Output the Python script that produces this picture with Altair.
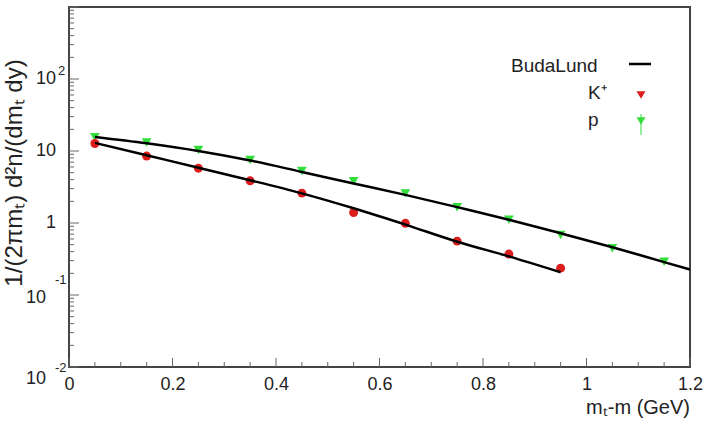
import altair as alt
import pandas as pd

# ---- data ----
kaon_mt = [0.05, 0.15, 0.25, 0.35, 0.45, 0.55, 0.65, 0.75, 0.85, 0.95]
kaon_yield = [12.7, 8.5, 5.77, 3.85, 2.6, 1.40, 0.99, 0.56, 0.37, 0.236]

proton_mt = [0.05, 0.15, 0.25, 0.35, 0.45, 0.55, 0.65, 0.75, 0.85, 0.95, 1.05, 1.15]
proton_yield = [15.6, 13.1, 10.3, 7.5, 5.29, 3.81, 2.58, 1.65, 1.11, 0.68, 0.447, 0.29]

fitk_mt = [0.05, 0.15, 0.25, 0.35, 0.45, 0.55, 0.65, 0.75, 0.85, 0.95]
fitk_yield = [12.98, 8.72, 5.86, 3.93, 2.58, 1.6, 0.95, 0.55, 0.344, 0.207]

fitp_mt = [0.05, 0.15, 0.25, 0.35, 0.45, 0.55, 0.65, 0.75, 0.85, 0.95, 1.05, 1.15, 1.2]
fitp_yield = [15.7, 12.8, 10.0, 7.37, 5.12, 3.54, 2.46, 1.66, 1.11, 0.72, 0.461, 0.286, 0.226]

x_major = [0, 0.2, 0.4, 0.6, 0.8, 1.0, 1.2]
x_minor = [0.05, 0.1, 0.15, 0.25, 0.3, 0.35, 0.45, 0.5, 0.55, 0.65, 0.7, 0.75,
           0.85, 0.9, 0.95, 1.05, 1.1, 1.15]
y_major = [0.01, 0.1, 1, 10, 100, 1000]
y_minor = [m * d for d in [0.01, 0.1, 1, 10, 100] for m in [2, 3, 4, 5, 6, 7, 8, 9]]

ytick_vals = [100, 10, 1, 0.1, 0.01]
ytick_base = ["10", "10", "1", "10", "10"]
ytick_exp = ["2", "", "", "-1", "-2"]

y_title = "1/(2πmₜ)  d²n/(dmₜ dy)"
x_title = "mₜ-m (GeV)"
legend_labels = ["BudaLund", "K⁺", "p"]

RED = "#dd1c1c"
GREEN = "#33dd3a"
FONT = "Liberation Sans"
W, H = 621, 360

kaon = pd.DataFrame({"mt": kaon_mt, "y": kaon_yield})
proton = pd.DataFrame({"mt": proton_mt, "y": proton_yield})
fitk = pd.DataFrame({"mt": fitk_mt, "y": fitk_yield})
fitp = pd.DataFrame({"mt": fitp_mt, "y": fitp_yield})
xmaj = pd.DataFrame({"mt": x_major})
xmin = pd.DataFrame({"mt": x_minor})
ymaj = pd.DataFrame({"y": y_major})
ymin = pd.DataFrame({"y": y_minor})
ylab = pd.DataFrame({"y": ytick_vals, "base": ytick_base, "exp": ytick_exp})
one = pd.DataFrame({"t": [y_title]})
xt = pd.DataFrame({"t": [x_title]})
leg = pd.DataFrame({"t": legend_labels})

xscale = alt.Scale(domain=[0, 1.2], nice=False, zero=False)
yscale = alt.Scale(type="log", domain=[0.01, 1000], nice=False)
xaxis = alt.Axis(values=x_major, format="~g", ticks=False, domain=False, grid=False,
                 labelFontSize=18, labelPadding=8, labelFont=FONT, labelColor="#222",
                 labelFlush=False, labelOverlap=False, labelBound=False)


def X(f="mt"):
    return alt.X(f"{f}:Q", scale=xscale, axis=xaxis, title=None)


def Y(f="y"):
    return alt.Y(f"{f}:Q", scale=yscale, axis=None)


pts_k = alt.Chart(kaon).mark_point(shape="circle", filled=True, size=80, opacity=1,
                                   color=RED).encode(x=X(), y=Y())
pts_p = alt.Chart(proton).mark_point(shape="triangle-down", filled=True, size=95, opacity=1,
                                     color=GREEN).encode(x=X(), y=Y())
line_k = alt.Chart(fitk).mark_line(color="black", strokeWidth=2.5,
                                   interpolate="monotone").encode(x=X(), y=Y())
line_p = alt.Chart(fitp).mark_line(color="black", strokeWidth=2.5,
                                   interpolate="monotone").encode(x=X(), y=Y())

tick_c = "#666"
xt_major = alt.Chart(xmaj).mark_rule(color=tick_c, strokeWidth=1).encode(
    x=X(), y=alt.value(H), y2=alt.value(H - 9))
xt_minor = alt.Chart(xmin).mark_rule(color=tick_c, strokeWidth=1).encode(
    x=X(), y=alt.value(H), y2=alt.value(H - 5))
yt_major = alt.Chart(ymaj).mark_rule(color=tick_c, strokeWidth=1).encode(
    y=Y(), x=alt.value(0), x2=alt.value(10))
yt_minor = alt.Chart(ymin).mark_rule(color=tick_c, strokeWidth=1).encode(
    y=Y(), x=alt.value(0), x2=alt.value(5))

lab_style = dict(font=FONT, color="#222")
ylab_pos = alt.Chart(ylab).transform_filter("datum.y >= 1").mark_text(
    align="right", baseline="middle", fontSize=18, **lab_style).encode(
    y=Y(), x=alt.value(-13), text="base:N")
yexp_pos = alt.Chart(ylab).transform_filter("datum.y > 10").mark_text(
    align="left", baseline="middle", fontSize=13, dy=-8, **lab_style).encode(
    y=Y(), x=alt.value(-11), text="exp:N")
ylab_m1 = alt.Chart(ylab).transform_filter("datum.y == 0.1").mark_text(
    align="right", baseline="middle", fontSize=18, dy=3, **lab_style).encode(
    y=Y(), x=alt.value(-23), text="base:N")
yexp_m1 = alt.Chart(ylab).transform_filter("datum.y == 0.1").mark_text(
    align="left", baseline="middle", fontSize=13, dy=-15, **lab_style).encode(
    y=Y(), x=alt.value(-14), text="exp:N")
ylab_m2 = alt.Chart(ylab).transform_filter("datum.y == 0.01").mark_text(
    align="right", baseline="middle", fontSize=18, dy=12, **lab_style).encode(
    y=Y(), x=alt.value(-23), text="base:N")
yexp_m2 = alt.Chart(ylab).transform_filter("datum.y == 0.01").mark_text(
    align="left", baseline="middle", fontSize=13, dy=1, **lab_style).encode(
    y=Y(), x=alt.value(-14), text="exp:N")

ytitle = alt.Chart(one).mark_text(angle=270, align="center", baseline="middle",
                                  fontSize=24, **lab_style).encode(
    x=alt.value(-54), y=alt.value(166), text="t:N")
xtitle = alt.Chart(xt).mark_text(align="right", baseline="alphabetic",
                                 fontSize=20, **lab_style).encode(
    x=alt.value(W), y=alt.value(407), text="t:N")

# legend
leg_buda = alt.Chart(leg).transform_filter("datum.t == 'BudaLund'").mark_text(
    align="left", baseline="middle", fontSize=19, **lab_style).encode(
    x=alt.value(442), y=alt.value(59), text="t:N")
leg_k = alt.Chart(leg).transform_filter("datum.t == 'K⁺'").mark_text(
    align="left", baseline="middle", fontSize=19, **lab_style).encode(
    x=alt.value(519), y=alt.value(86), text="t:N")
leg_p = alt.Chart(leg).transform_filter("datum.t == 'p'").mark_text(
    align="left", baseline="middle", fontSize=19, **lab_style).encode(
    x=alt.value(519), y=alt.value(113), text="t:N")
leg_line = alt.Chart(leg).transform_filter("datum.t == 'BudaLund'").mark_rule(
    color="black", strokeWidth=2.5).encode(
    x=alt.value(560), x2=alt.value(582), y=alt.value(57))
leg_ksym = alt.Chart(leg).transform_filter("datum.t == 'K⁺'").mark_point(
    shape="triangle-down", filled=True, size=80, opacity=1, color=RED).encode(
    x=alt.value(572), y=alt.value(88))
leg_pbar = alt.Chart(leg).transform_filter("datum.t == 'p'").mark_rule(
    color=GREEN, strokeWidth=1).encode(
    x=alt.value(572), y=alt.value(107), y2=alt.value(128))
leg_psym = alt.Chart(leg).transform_filter("datum.t == 'p'").mark_point(
    shape="triangle-down", filled=True, size=80, opacity=1, color=GREEN).encode(
    x=alt.value(572), y=alt.value(114))

chart = alt.layer(
    xt_minor, xt_major, yt_minor, yt_major,
    pts_p, pts_k, line_p, line_k,
    ylab_pos, yexp_pos, ylab_m1, yexp_m1, ylab_m2, yexp_m2,
    ytitle, xtitle,
    leg_buda, leg_k, leg_p, leg_line, leg_ksym, leg_pbar, leg_psym,
).properties(
    width=W, height=H,
    autosize=alt.AutoSizeParams(type="none"),
    padding={"left": 69, "top": 7, "right": 17, "bottom": 63},
    background="white",
).configure_view(stroke="#444", strokeWidth=2)

chart.save("out.html", embed_options={"renderer": "svg", "actions": False})
